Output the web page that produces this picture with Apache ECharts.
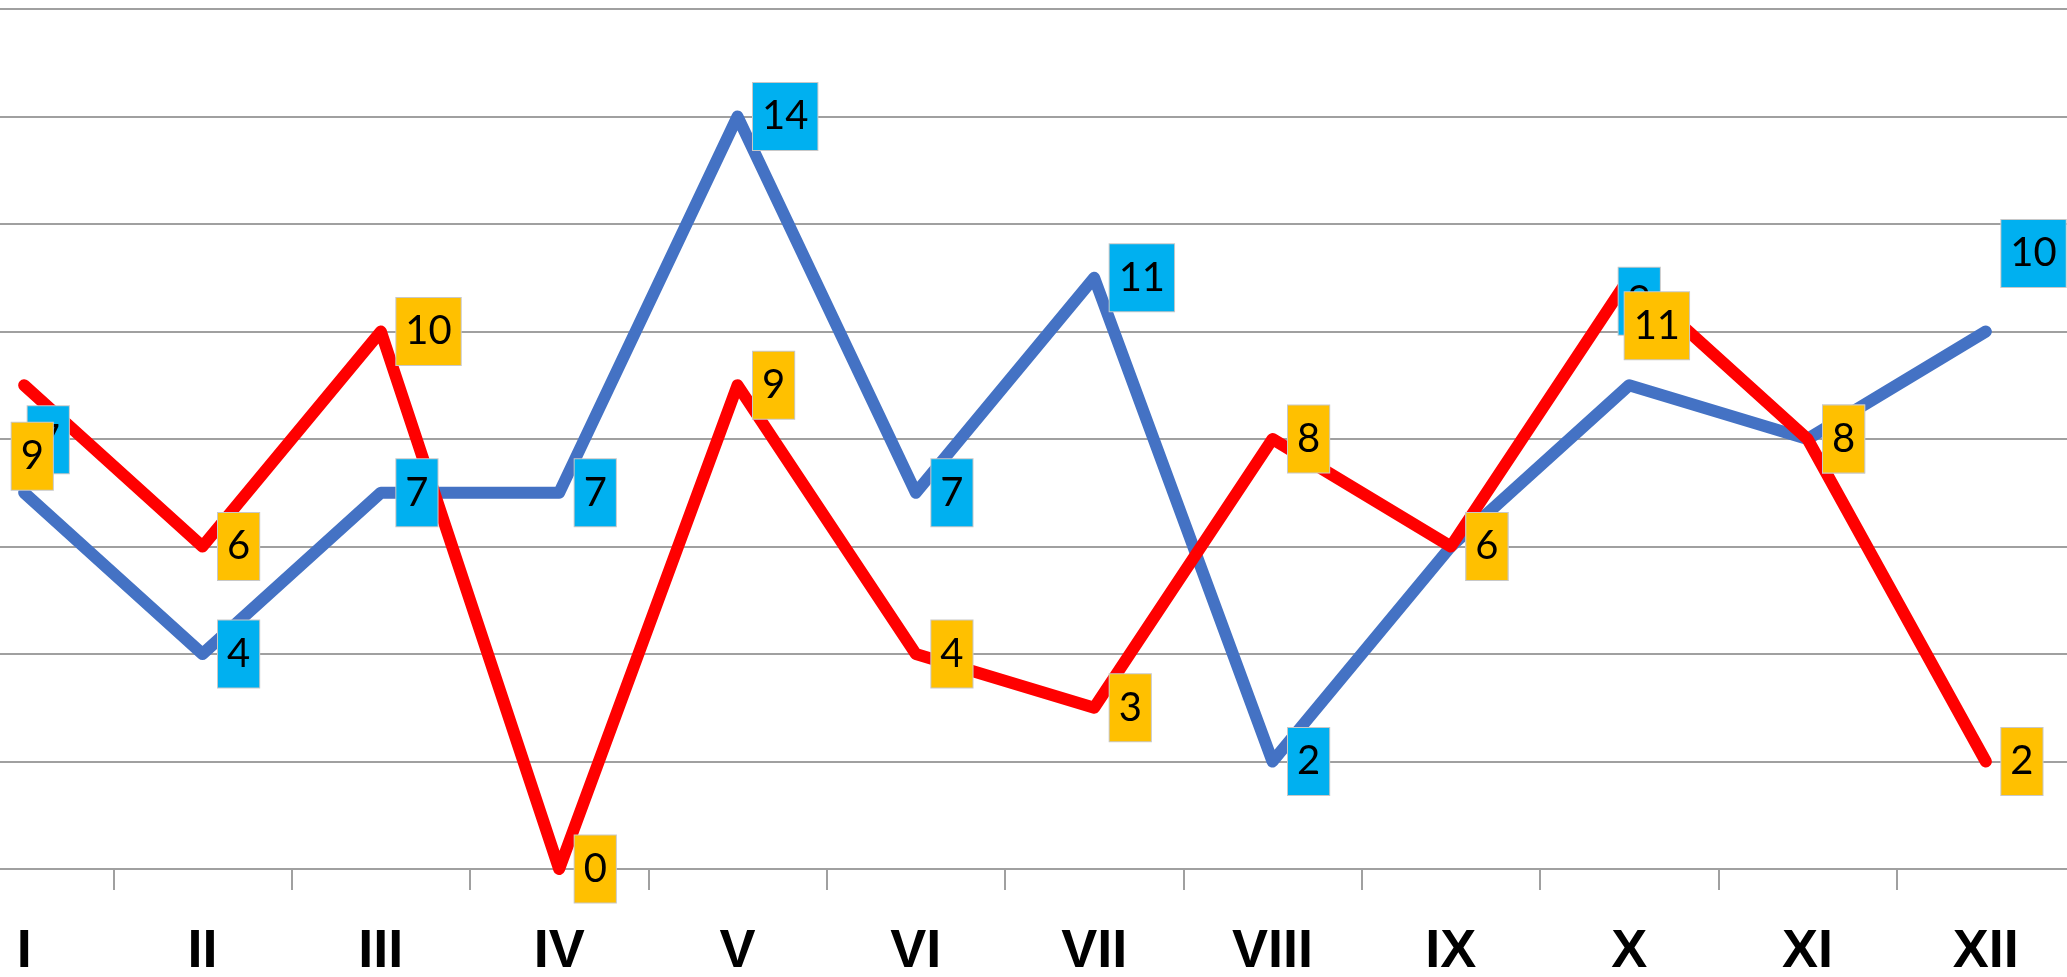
<!DOCTYPE html>
<html>
<head>
<meta charset="utf-8">
<script src="https://cdn.jsdelivr.net/npm/echarts@6/dist/echarts.min.js"></script>
<style>
html,body{margin:0;padding:0;background:#fff;overflow:hidden;width:2067px;height:977px;position:relative;}
#chart{position:absolute;left:-65px;top:0;width:2140px;height:977px;}
</style>
</head>
<body>
<div id="chart"></div>
<script>
var categories = ['I','II','III','IV','V','VI','VII','VIII','IX','X','XI','XII'];
var blueValues = [7, 4, 7, 7, 14, 7, 11, 2, 6, 9, 8, 10];
var redValues = [9, 6, 10, 0, 9, 4, 3, 8, 6, 11, 8, 2];

// label offset adjustments (style only), keyed by category index
var blueLabelShift = {0: [-12, -53], 9: [-26, -84], 11: [0, -78]};
var redLabelShift = {0: [-28, 71], 9: [-20, 48]};

function buildData(values, shifts) {
  return values.map(function (v, i) {
    var item = {value: v};
    if (shifts[i]) item.label = {offset: shifts[i]};
    return item;
  });
}

function labelStyle(bg) {
  return {
    show: true,
    position: 'right',
    distance: 15,
    color: '#000',
    fontFamily: 'Lato, "Open Sans", sans-serif',
    fontSize: 40,
    lineHeight: 40,
    backgroundColor: bg,
    borderColor: '#c8c8c8',
    borderWidth: 1,
    padding: [14, 9, 13, 9]
  };
}

function lineSeries(name, values, color, z) {
  return {
    name: name,
    type: 'line',
    data: values,
    showSymbol: false,
    symbol: 'none',
    lineStyle: {color: color, width: 12, cap: 'round', join: 'round'},
    itemStyle: {color: color},
    label: {show: false},
    z: z
  };
}

function labelSeries(name, values, shifts, bg, z) {
  return {
    name: name,
    type: 'line',
    data: buildData(values, shifts),
    showSymbol: true,
    symbol: 'circle',
    symbolSize: 1,
    lineStyle: {width: 0, opacity: 0},
    itemStyle: {color: 'rgba(0,0,0,0)', borderWidth: 0},
    label: labelStyle(bg),
    z: z
  };
}

var chart = echarts.init(document.getElementById('chart'), null, {renderer: 'canvas'});
chart.setOption({
  animation: false,
  backgroundColor: '#ffffff',
  grid: {left: 0, right: 0, top: 9, bottom: 108, containLabel: false, outerBoundsMode: 'none'},
  xAxis: {
    type: 'category',
    data: categories,
    boundaryGap: true,
    axisLine: {show: true, lineStyle: {color: '#a0a0a0', width: 2}},
    axisTick: {show: true, length: 21, interval: 0, lineStyle: {color: '#a0a0a0', width: 2}},
    axisLabel: {
      interval: 0,
      margin: 56,
      color: '#000',
      fontWeight: 'bold',
      fontSize: 54,
      fontFamily: '"Liberation Sans", Arial, sans-serif'
    },
    splitLine: {show: false}
  },
  yAxis: {
    type: 'value',
    min: 0,
    max: 16,
    interval: 2,
    axisLine: {show: false},
    axisTick: {show: false},
    axisLabel: {show: false},
    splitLine: {show: true, lineStyle: {color: '#a0a0a0', width: 2}}
  },
  series: [
    lineSeries('blue', blueValues, '#4472C4', 2),
    lineSeries('red', redValues, '#FF0000', 3),
    labelSeries('blueLabels', blueValues, blueLabelShift, '#00B0F0', 4),
    labelSeries('redLabels', redValues, redLabelShift, '#FFC000', 5)
  ]
});
</script>
</body>
</html>
